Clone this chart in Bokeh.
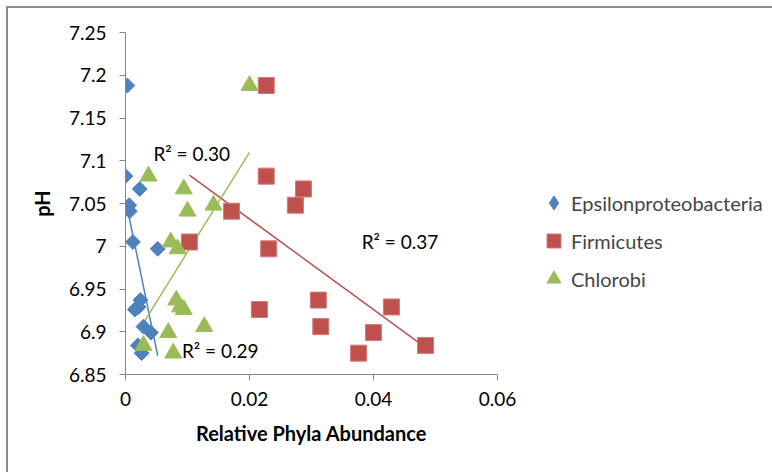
import numpy as np
from bokeh.plotting import figure
from bokeh.models import FixedTicker, Legend, LegendItem, Range1d
from bokeh.core.properties import value
from bokeh.embed import file_html
from bokeh.resources import INLINE

# ---- data ----
ph = [7.188, 7.082, 7.067, 7.048, 7.041, 7.005, 6.997, 6.937, 6.929, 6.926, 6.906, 6.899, 6.884, 6.875]
epsilon = [0.0003, 0.0000, 0.0023, 0.0006, 0.0007, 0.0012, 0.0052, 0.0024, 0.0021, 0.0015, 0.0029, 0.0041, 0.0020, 0.0026]
firmicutes = [0.0227, 0.0227, 0.0287, 0.0274, 0.0171, 0.0103, 0.0231, 0.0311, 0.0429, 0.0216, 0.0315, 0.0400, 0.0484, 0.0376]
chlorobi = [0.0200, 0.0037, 0.0094, 0.0142, 0.0100, 0.0073, 0.0084, 0.0082, 0.0088, 0.0094, 0.0127, 0.0069, 0.0029, 0.0077]

series_names = ["Epsilonproteobacteria", "Firmicutes", "Chlorobi"]
r2_labels = ["R² = 0.29", "R² = 0.37", "R² = 0.30"]
r2_x = [0.0091, 0.0381, 0.0045]
r2_y = [6.878, 7.005, 7.108]

y_ticks = [6.85, 6.9, 6.95, 7.0, 7.05, 7.1, 7.15, 7.2, 7.25]
y_tick_labels = ["6.85", "6.9", "6.95", "7", "7.05", "7.1", "7.15", "7.2", "7.25"]
x_ticks = [0, 0.02, 0.04, 0.06]
x_tick_labels = ["0", "0.02", "0.04", "0.06"]

colors = ["#4F81BD", "#C0504D", "#9BBB59"]
FONT = "Lato"

p = figure(frame_width=372, frame_height=342, output_backend="svg", toolbar_location=None,
           x_range=Range1d(0, 0.06), y_range=Range1d(6.85, 7.25),
           min_border_left=117, min_border_right=275, min_border_top=24, min_border_bottom=98)
p.styles = {"margin-left": "6px", "margin-top": "6px",
            "border-left": "2px solid #8c8c8c", "border-top": "2px solid #8c8c8c"}
p.xgrid.visible = False
p.ygrid.visible = False
p.outline_line_color = None
p.background_fill_color = "white"
p.border_fill_color = "white"

for ax, ticks, labels in ((p.xaxis[0], x_ticks, x_tick_labels), (p.yaxis[0], y_ticks, y_tick_labels)):
    ax.ticker = FixedTicker(ticks=ticks)
    ax.major_label_overrides = {t: l for t, l in zip(ticks, labels)}
    ax.minor_tick_line_color = None
    ax.axis_line_color = "#868686"
    ax.major_tick_line_color = "#868686"
    ax.major_tick_in = 0
    ax.major_tick_out = 6
    ax.major_label_text_font = FONT
    ax.major_label_text_font_size = "19px"
    ax.major_label_text_color = "black"
    ax.axis_label_text_font = FONT
    ax.axis_label_text_font_style = "bold"
    ax.axis_label_text_font_size = "20px"
    ax.axis_label_text_color = "black"

p.xaxis.axis_label = "Relative Phyla Abundance"
p.yaxis.axis_label = "pH"
p.xaxis.major_label_standoff = 11
p.yaxis.major_label_standoff = 13
p.xaxis.axis_label_standoff = 12
p.yaxis.axis_label_standoff = 12

# trendlines
data = [epsilon, firmicutes, chlorobi]
for xs, c in zip(data, colors):
    xa = np.array(xs); ya = np.array(ph)
    m, b = np.polyfit(xa, ya, 1)
    lx = np.array([xa.min(), xa.max()])
    p.line(lx, m * lx + b, line_color=c, line_width=1.5)

r_eps = p.scatter(epsilon, ph, marker="square", angle=np.pi / 4, size=10.5,
                  fill_color=colors[0], line_color=colors[0])
r_fir = p.scatter(firmicutes, ph, marker="square", size=16,
                  fill_color=colors[1], line_color="#d27a77")
r_chl = p.scatter(chlorobi, ph, marker="triangle", size=17,
                  fill_color=colors[2], line_color=colors[2])
# legend-only glyph for the diamond (legend glyphs are never rotated); NaN => nothing drawn in plot
r_eps_key = p.scatter(x=[np.nan], y=[np.nan], marker="diamond", size=10,
                      fill_color=colors[0], line_color=colors[0])

p.text(r2_x, r2_y, text=r2_labels, text_font=value(FONT), text_font_size="19px",
       text_baseline="middle", text_align="left", text_color="black")

legend = Legend(items=[LegendItem(label=n, renderers=[r]) for n, r in zip(series_names, [r_eps_key, r_fir, r_chl])],
                location=(39, 78), orientation="vertical")
legend.border_line_color = None
legend.background_fill_alpha = 0
legend.label_text_font = FONT
legend.label_text_font_size = "20px"
legend.glyph_width = 35
legend.glyph_height = 35
legend.label_standoff = 0
legend.spacing = 3
legend.padding = 0
legend.margin = 0
p.add_layout(legend, "right")

open("out.html", "w").write(file_html(p, INLINE))
